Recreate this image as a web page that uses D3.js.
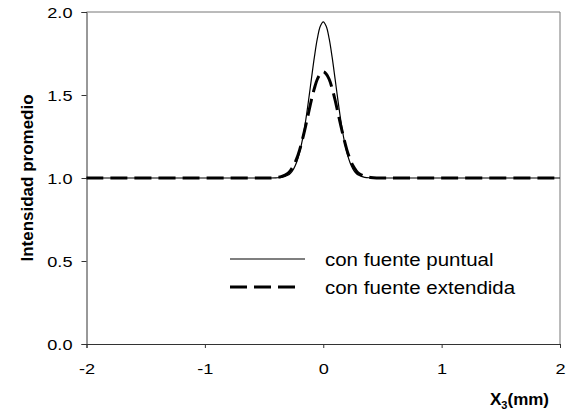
<!DOCTYPE html>
<html>
<head>
<meta charset="utf-8">
<script src="https://cdn.jsdelivr.net/npm/d3@7"></script>
<style>
  body { margin: 0; background: #fff; }
  text { font-family: Arial, "Liberation Sans", sans-serif; fill: #000; }
</style>
</head>
<body>
<div id="chart"></div>
<script>
// data
var xValues = [-2, -0.5, -0.45, -0.4, -0.35, -0.3, -0.275, -0.25, -0.225, -0.2, -0.175, -0.15, -0.125, -0.1, -0.075, -0.05, -0.025,
    0, 0.025, 0.05, 0.075, 0.1, 0.125, 0.15, 0.175, 0.2, 0.225, 0.25, 0.275, 0.3, 0.35, 0.4, 0.45, 0.5, 2];
var puntual = [1, 1, 1, 1.001, 1.004, 1.016, 1.030, 1.055, 1.095, 1.153, 1.234, 1.339, 1.463, 1.597, 1.728, 1.839, 1.914,
    1.94, 1.914, 1.839, 1.728, 1.597, 1.463, 1.339, 1.234, 1.153, 1.095, 1.055, 1.030, 1.016, 1.004, 1.001, 1, 1, 1];
var extendida = [1, 1, 1, 1.003, 1.010, 1.028, 1.047, 1.075, 1.115, 1.168, 1.235, 1.31, 1.39, 1.47, 1.54, 1.595, 1.627,
    1.64, 1.627, 1.595, 1.54, 1.47, 1.39, 1.31, 1.235, 1.168, 1.115, 1.075, 1.047, 1.028, 1.010, 1.003, 1, 1, 1];
var xTicks = [-2, -1, 0, 1, 2];
var yTicks = [0, 0.5, 1, 1.5, 2];
var legendLabels = ["con fuente puntual", "con fuente extendida"];

var width = 568, height = 418;
var stretch = 1.17; // text in the picture is a bit wider than plain Arial

var svg = d3.select("#chart").append("svg")
    .attr("width", width)
    .attr("height", height);

var x = d3.scaleLinear().domain([-2, 2]).range([86.5, 560]);
var y = d3.scaleLinear().domain([0, 2]).range([344, 12]);

function widen(sel) {
    sel.each(function() {
        var w = this.getComputedTextLength();
        d3.select(this).attr("textLength", w * stretch).attr("lengthAdjust", "spacingAndGlyphs");
    });
}

// frame (top and right)
svg.append("path")
    .attr("d", "M" + x(-2) + "," + y(2) + "H" + x(2) + "V" + y(0))
    .attr("fill", "none")
    .attr("stroke", "#777")
    .attr("stroke-width", 1);

// axes
var yAxis = svg.append("g")
    .attr("transform", "translate(" + x(-2) + ",0)")
    .call(d3.axisLeft(y).tickValues(yTicks).tickSize(5).tickPadding(9).tickFormat(d3.format(".1f")));

var xAxis = svg.append("g")
    .attr("transform", "translate(0," + y(0) + ")")
    .call(d3.axisBottom(x).tickValues(xTicks).tickSize(4).tickPadding(15).tickFormat(d3.format("d")));

[yAxis, xAxis].forEach(function(ax) {
    ax.select(".domain").attr("stroke", "#333");
    ax.selectAll(".tick line").attr("stroke", "#333");
    ax.selectAll("text")
        .style("font-family", "Arial, 'Liberation Sans', sans-serif")
        .style("font-size", "15.5px")
        .attr("fill", "#000");
});
yAxis.selectAll("text").attr("dy", "0.36em");
xAxis.selectAll("text").attr("dy", "0.72em").text(function(d) { return d < 0 ? "-" + Math.abs(d) : d; });
yAxis.selectAll("text").call(widen);
xAxis.selectAll("text").call(widen);

// lines
var line = d3.line()
    .x(function(d, i) { return x(xValues[i]); })
    .y(function(d) { return y(d); })
    .curve(d3.curveCatmullRom);

svg.append("path")
    .attr("class", "extendida line")
    .attr("d", line(extendida))
    .attr("fill", "none")
    .attr("stroke", "#000")
    .attr("stroke-width", 3)
    .attr("stroke-dasharray", "17,7");

svg.append("path")
    .attr("class", "puntual line")
    .attr("d", line(puntual))
    .attr("fill", "none")
    .attr("stroke", "#000")
    .attr("stroke-width", 1.2);

// legend
var legend = svg.append("g");
legend.append("line")
    .attr("x1", 230).attr("x2", 305).attr("y1", 259).attr("y2", 259)
    .attr("stroke", "#000").attr("stroke-width", 1.2);
legend.append("line")
    .attr("x1", 230).attr("x2", 302).attr("y1", 287).attr("y2", 287)
    .attr("stroke", "#000").attr("stroke-width", 3).attr("stroke-dasharray", "17,7");
legend.selectAll("text.leg")
    .data(legendLabels)
    .enter().append("text")
    .attr("class", "leg")
    .attr("x", 325)
    .attr("y", function(d, i) { return 266 + i * 28; })
    .style("font-size", "17.5px")
    .text(function(d) { return d; })
    .call(widen);

// axis titles
svg.append("text")
    .attr("transform", "translate(32.5," + y(1) + ") rotate(-90)")
    .attr("text-anchor", "middle")
    .style("font-size", "17px")
    .style("font-weight", "bold")
    .text("Intensidad promedio");

var xt = svg.append("text")
    .attr("x", 490)
    .attr("y", 405)
    .style("font-size", "17px")
    .style("font-weight", "bold");
xt.append("tspan").text("X");
xt.append("tspan").attr("dy", 4).style("font-size", "11px").text("3");
xt.append("tspan").attr("dy", -4).text("(mm)");
</script>
</body>
</html>
